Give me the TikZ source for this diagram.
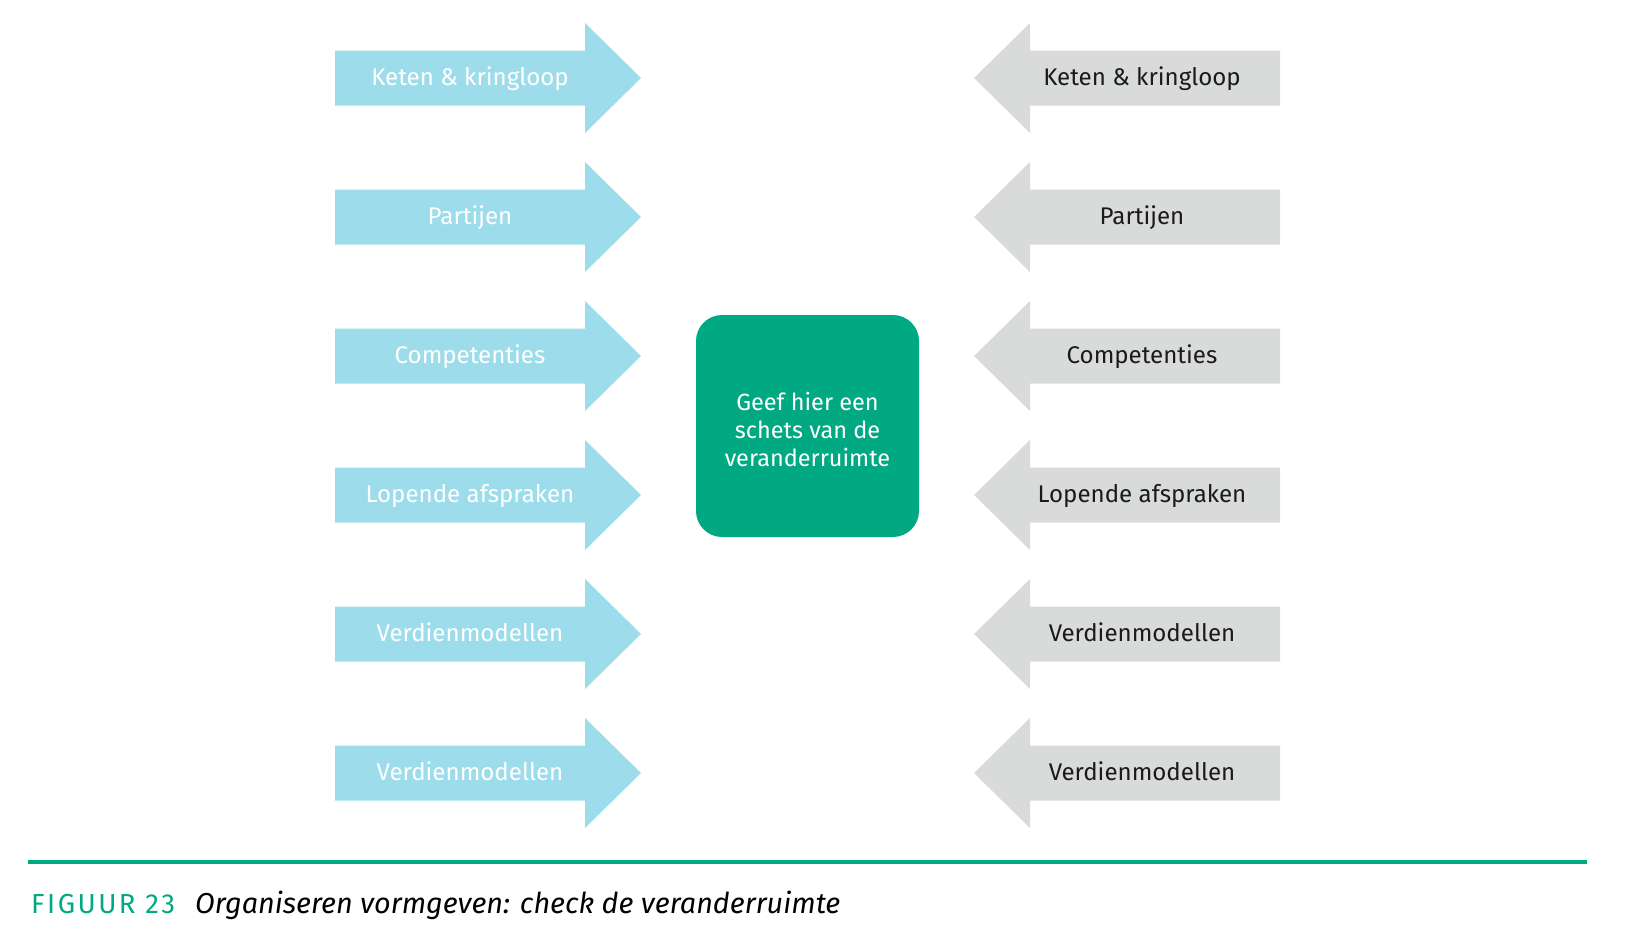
\documentclass[tikz,border=0pt]{standalone}
\usepackage{fontspec}
\setmainfont{Fira Sans}
\newfontfamily\capfont[LetterSpace=9]{Fira Sans}
\definecolor{arrblue}{HTML}{9DDDEB}
\definecolor{arrgrey}{HTML}{D9DADA}
\definecolor{figgreen}{HTML}{00A982}
\definecolor{txtdark}{HTML}{1A1A1A}
\begin{document}
\begin{tikzpicture}[x=1pt,y=-1pt,
  lab/.style={font=\fontsize{24.1}{29}\selectfont, inner sep=0, anchor=base},
  boxtext/.style={font=\fontsize{23.5}{28}\selectfont, align=center, text=white},
  centrebox/.style={fill=figgreen, rounded corners=26pt, minimum width=223pt, minimum height=222pt, inner sep=0}]
\useasboundingbox (0,0) rectangle (1627,937);
\foreach \i/\t in {0/Keten \& kringloop,1/Partijen,2/Competenties,3/Lopende afspraken,4/Verdienmodellen,5/Verdienmodellen}{
  \pgfmathsetmacro\c{78+139*\i}
  % left (pointing right) arrow
  \fill[arrblue] (335,\c-27.5) -- (585,\c-27.5) -- (585,\c-55) -- (641,\c) -- (585,\c+55) -- (585,\c+27.5) -- (335,\c+27.5) -- cycle;
  \node[lab,text=white] (L\i) at (470,\c+7) {\t};
  % right (pointing left) arrow
  \fill[arrgrey] (1280,\c-27.5) -- (1030,\c-27.5) -- (1030,\c-55) -- (974,\c) -- (1030,\c+55) -- (1030,\c+27.5) -- (1280,\c+27.5) -- cycle;
  \node[lab,text=txtdark] (R\i) at (1142,\c+7) {\t};
}
\node[centrebox] (box) at (807.5,426) {};
\node[boxtext] (boxlabel) at (807.5,429) {Geef hier een\\schets van de\\veranderruimte};
\coordinate (ruleA) at (28,862);
\coordinate (ruleB) at (1587,862);
\draw[figgreen, line width=4pt] (ruleA) -- (ruleB);
\node[anchor=base west, inner sep=0, text=figgreen, font=\capfont\fontsize{27.5}{32}\selectfont] (fig) at (31,913) {FIGUUR 23};
\node[anchor=base west, inner sep=0, text=black, font=\fontsize{28.8}{34}\selectfont\itshape] (caption) at (195,913) {Organiseren vormgeven: check de veranderruimte};
\end{tikzpicture}
\end{document}
